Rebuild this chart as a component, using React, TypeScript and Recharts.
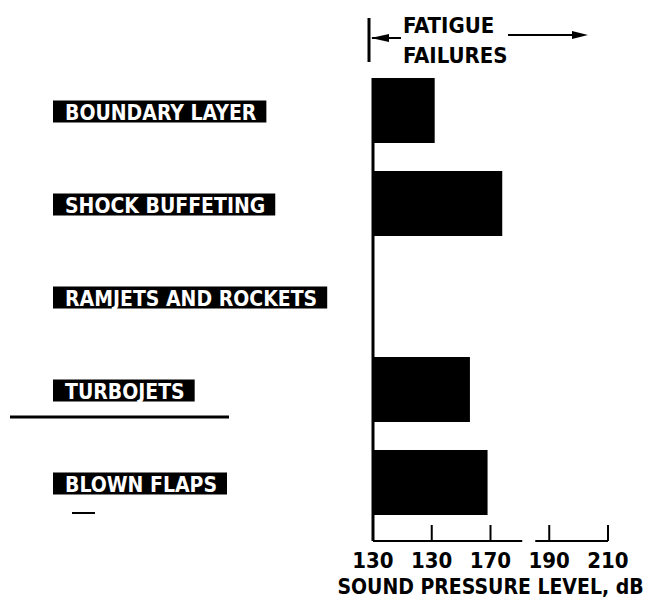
import React, { useLayoutEffect, useRef, useState } from 'react';
import { BarChart, Bar, XAxis, YAxis } from 'recharts';

// noise sources, top to bottom
const sources = ['BOUNDARY LAYER', 'SHOCK BUFFETING', 'RAMJETS AND ROCKETS', 'TURBOJETS', 'BLOWN FLAPS'];
// upper end of the fatigue-failure band, dB (ramjets/rockets: no bar drawn)
const levels = [151, 174, null, 163, 169];
const tickValues = [130, 150, 170, 190, 210];
// printed as in the original figure
const tickLabels = ['130', '130', '170', '190', '210'];

const data = sources.map((name, i) => ({ name, level: levels[i] }));

const FONT = "'DejaVu Sans Condensed', 'Liberation Sans Narrow', 'DejaVu Sans', sans-serif";

function SourceTick({ y, payload }: any) {
  const ref = useRef<SVGTextElement>(null);
  const [w, setW] = useState(0);

  useLayoutEffect(() => {
    if (ref.current) setW(ref.current.getComputedTextLength());
  }, [payload.value]);

  return (
    <g>
      <rect x={45} y={y - 10} width={w + 22} height={22} fill="#000" />
      <text
        ref={ref}
        x={57}
        y={y + 9}
        fill="#fff"
        fontFamily={FONT}
        fontSize={21}
        fontWeight="bold"
      >
        {payload.value}
      </text>
    </g>
  );
}

function LevelTick({ x, y, payload, index }: any) {
  return (
    <g>
      {/* left edge of the bars runs up from the 130 tick */}
      {index === 0 && <line x1={x} x2={x} y1={y} y2={y - 463} stroke="#000" strokeWidth={3} />}
      {/* break in the axis before 190 */}
      {payload.value === 190 && <rect x={x - 27} y={y - 3} width={13} height={6} fill="#fff" />}
      <line x1={x} x2={x} y1={y} y2={y - 16} stroke="#000" strokeWidth={2} />
      <text
        x={x}
        y={y + 27}
        textAnchor="middle"
        fill="#000"
        fontFamily={FONT}
        fontSize={22}
        fontWeight="bold"
      >
        {tickLabels[index]}
      </text>
    </g>
  );
}

export default function App() {
  return (
    <div style={{ position: 'relative', width: 635, height: 595 }}>
      <BarChart
        width={635}
        height={595}
        data={data}
        layout="vertical"
        barSize={65}
        margin={{ top: 56, right: 35, bottom: 0, left: 0 }}
      >
        <XAxis
          type="number"
          domain={[130, 210]}
          ticks={tickValues}
          height={62}
          tickSize={0}
          tickMargin={0}
          axisLine={{ stroke: '#000', strokeWidth: 2 }}
          tickLine={false}
          tick={<LevelTick />}
          label={{
            value: 'SOUND PRESSURE LEVEL, dB',
            position: 'insideBottom',
            offset: 9,
            fill: '#000',
            fontSize: 21,
            fontFamily: FONT,
            fontWeight: 'bold',
          }}
        />
        <YAxis
          type="category"
          dataKey="name"
          width={365}
          padding={{ top: 0, bottom: 12 }}
          axisLine={false}
          tickLine={false}
          tickSize={0}
          tickMargin={0}
          tick={<SourceTick />}
        />
        <Bar dataKey="level" fill="#000" isAnimationActive={false} />
      </BarChart>

      <svg
        width={635}
        height={595}
        style={{ position: 'absolute', left: 0, top: 0, pointerEvents: 'none' }}
      >
        {/* fatigue failures bracket */}
        <line x1={361} x2={361} y1={10} y2={54} stroke="#000" strokeWidth={3} />
        <line x1={364} x2={393} y1={30} y2={30} stroke="#000" strokeWidth={2} />
        <polygon points="363,30 381,26 381,34" fill="#000" />
        <text x={395} y={25} fontFamily={FONT} fontSize={22} fontWeight="bold" fill="#000">
          FATIGUE
        </text>
        <text x={395} y={55} fontFamily={FONT} fontSize={22} fontWeight="bold" fill="#000">
          FAILURES
        </text>
        <line x1={500} x2={566} y1={27} y2={27} stroke="#000" strokeWidth={2} />
        <polygon points="580,27 564,23 564,31" fill="#000" />

        {/* rule below turbojets */}
        <line x1={2} x2={221} y1={409} y2={409} stroke="#000" strokeWidth={3} />
        <line x1={64} x2={87} y1={505} y2={505} stroke="#000" strokeWidth={2} />
      </svg>
    </div>
  );
}
